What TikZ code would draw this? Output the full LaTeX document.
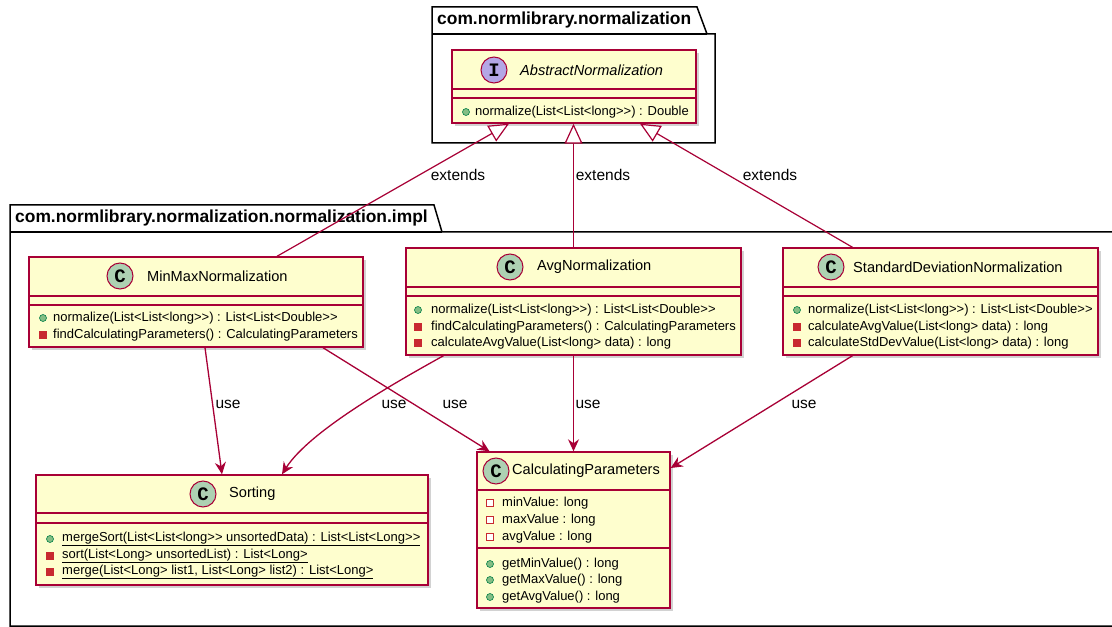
\documentclass[tikz,border=0pt]{standalone}
\usepackage{fontspec}
\setmainfont{Liberation Sans}
\newfontfamily\badgefont{Liberation Mono}
\usetikzlibrary{arrows.meta,shadows}
\definecolor{umlred}{HTML}{A80036}
\definecolor{umlfill}{HTML}{FEFECE}
\definecolor{cgreen}{HTML}{ADD1B2}
\definecolor{ipurple}{HTML}{B4A7E5}
\definecolor{pubfill}{HTML}{84BE84}
\definecolor{pubdraw}{HTML}{038048}
\definecolor{privred}{HTML}{C82930}
% two closing brackets without the tex-text ligature
\newcommand{\gtgt}{>\kern0pt>}
\begin{document}
\begin{tikzpicture}[x=1bp,y=-1bp,line join=miter,
  pkg/.style={draw=black,line width=1.5bp},
  pkgname/.style={anchor=west,inner sep=0pt,font=\fontsize{17.4bp}{20bp}\selectfont\bfseries},
  umlclass/.style={draw=umlred,fill=umlfill,line width=1.4bp,inner sep=0pt,
    drop shadow={shadow xshift=3bp,shadow yshift=-3bp,opacity=.35}},
  sep/.style={draw=umlred,line width=1.2bp},
  cbadge/.style={circle,draw=umlred,fill=cgreen,line width=1bp,minimum size=26bp,inner sep=0pt,
    font=\badgefont\bfseries\fontsize{19bp}{19bp}\selectfont},
  ibadge/.style={cbadge,fill=ipurple},
  classname/.style={anchor=west,inner sep=0pt,font=\fontsize{14.6bp}{17bp}\selectfont},
  member/.style={anchor=west,inner sep=0pt,font=\fontsize{13bp}{15bp}\selectfont},
  pub/.style={circle,draw=pubdraw,fill=pubfill,line width=.6bp,minimum size=7bp,inner sep=0pt},
  priv/.style={rectangle,draw=privred,fill=privred,line width=.6bp,minimum size=7bp,inner sep=0pt},
  privfield/.style={rectangle,draw=privred,fill=white,line width=.9bp,minimum size=7.5bp,inner sep=0pt},
  edgelabel/.style={inner sep=0pt,font=\fontsize{15.5bp}{18bp}\selectfont},
  extends/.style={draw=umlred,line width=1.2bp,-{Triangle[length=20bp,width=18bp,fill=white]}},
  use/.style={draw=umlred,line width=1.3bp,-{Stealth[length=12bp,width=11bp,inset=4bp]}},
]
\useasboundingbox (0,0) rectangle (1112,627);
\clip (0,0) rectangle (1112,627);
\fill[white] (0,0) rectangle (1112,627);
%% packages
\draw[pkg,fill=white] (432,7) -- (697,7) -- (707,34) -- (715,34) -- (715,143) -- (432,143) -- cycle;
\draw[pkg] (432,34) -- (707,34);
\node[pkgname] (NormPkg) at (437,20.5) {com.normlibrary.normalization};
\draw[pkg,fill=white] (10,205) -- (434,205) -- (442,232) -- (1125,232) -- (1125,626) -- (10,626) -- cycle;
\draw[pkg] (10,232) -- (442,232);
\node[pkgname] (ImplPkg) at (15,218.5) {com.normlibrary.normalization.normalization.impl};
%% AbstractNormalization
\node[umlclass,minimum width=244bp,minimum height=73bp] (Abstract) at (574,86.5) {};
\draw[sep] (Abstract.west |- 0,89) -- (Abstract.east |- 0,89);
\draw[sep] (Abstract.west |- 0,98) -- (Abstract.east |- 0,98);
\node[ibadge] (AbstractBadge) at (494,70) {I};
\node[classname,font=\fontsize{14.6bp}{17bp}\selectfont\itshape] (AbstractName) at (520,70) {AbstractNormalization};
\node[pub] (AbstractM1) at (466,112) {};
\node[member] (AbstractT1) at (475,112) {normalize(List<List<long\gtgt) : Double};
%% MinMaxNormalization
\node[umlclass,minimum width=334bp,minimum height=90bp] (MinMax) at (196,302) {};
\draw[sep] (MinMax.west |- 0,296) -- (MinMax.east |- 0,296);
\draw[sep] (MinMax.west |- 0,305) -- (MinMax.east |- 0,305);
\node[cbadge] (MinMaxBadge) at (120,276) {C};
\node[classname] (MinMaxName) at (147,276) {MinMaxNormalization};
\node[pub] (MinMaxM1) at (43,318) {};
\node[member] (MinMaxT1) at (53,318) {normalize(List<List<long\gtgt) : List<List<Double\gtgt};
\node[priv] (MinMaxM2) at (43,335) {};
\node[member] (MinMaxT2) at (53,335) {findCalculatingParameters() : CalculatingParameters};
%% AvgNormalization
\node[umlclass,minimum width=335bp,minimum height=107bp] (Avg) at (573.5,301.5) {};
\draw[sep] (Avg.west |- 0,287) -- (Avg.east |- 0,287);
\draw[sep] (Avg.west |- 0,296) -- (Avg.east |- 0,296);
\node[cbadge] (AvgBadge) at (510,267) {C};
\node[classname] (AvgName) at (537,267) {AvgNormalization};
\node[pub] (AvgM1) at (418,310) {};
\node[member] (AvgT1) at (431,310) {normalize(List<List<long\gtgt) : List<List<Double\gtgt};
\node[priv] (AvgM2) at (418,327) {};
\node[member] (AvgT2) at (431,327) {findCalculatingParameters() : CalculatingParameters};
\node[priv] (AvgM3) at (418,343) {};
\node[member] (AvgT3) at (431,343) {calculateAvgValue(List<long> data) : long};
%% StandardDeviationNormalization
\node[umlclass,minimum width=315bp,minimum height=107bp] (StdDev) at (940.5,301.5) {};
\draw[sep] (StdDev.west |- 0,287) -- (StdDev.east |- 0,287);
\draw[sep] (StdDev.west |- 0,296) -- (StdDev.east |- 0,296);
\node[cbadge] (StdDevBadge) at (831,267) {C};
\node[classname] (StdDevName) at (853,267) {StandardDeviationNormalization};
\node[pub] (StdDevM1) at (797,310) {};
\node[member] (StdDevT1) at (808,310) {normalize(List<List<long\gtgt) : List<List<Double\gtgt};
\node[priv] (StdDevM2) at (797,327) {};
\node[member] (StdDevT2) at (808,327) {calculateAvgValue(List<long> data) : long};
\node[priv] (StdDevM3) at (797,343) {};
\node[member] (StdDevT3) at (808,343) {calculateStdDevValue(List<long> data) : long};
%% Sorting
\node[umlclass,minimum width=392bp,minimum height=110bp] (Sorting) at (232,530) {};
\draw[sep] (Sorting.west |- 0,513) -- (Sorting.east |- 0,513);
\draw[sep] (Sorting.west |- 0,523) -- (Sorting.east |- 0,523);
\node[cbadge] (SortingBadge) at (203,494) {C};
\node[classname] (SortingName) at (229,494) {Sorting};
\node[pub] (SortingM1) at (50,539) {};
\node[member] (SortingT1) at (62,539) {\underline{mergeSort(List<List<long\gtgt\ unsortedData) : List<List<Long\gtgt}};
\node[priv] (SortingM2) at (50,556) {};
\node[member] (SortingT2) at (62,556) {\underline{sort(List<Long> unsortedList) : List<Long>}};
\node[priv] (SortingM3) at (50,572) {};
\node[member] (SortingT3) at (62,572) {\underline{merge(List<Long> list1, List<Long> list2) : List<Long>}};
%% CalculatingParameters
\node[umlclass,minimum width=193bp,minimum height=156bp] (CalcParams) at (573.5,530) {};
\draw[sep] (CalcParams.west |- 0,490) -- (CalcParams.east |- 0,490);
\draw[sep] (CalcParams.west |- 0,548) -- (CalcParams.east |- 0,548);
\node[cbadge] (CalcParamsBadge) at (496,471) {C};
\node[classname] (CalcParamsName) at (512,471) {CalculatingParameters};
\node[privfield] (CalcParamsA1) at (490,503) {};
\node[member] (CalcParamsU1) at (502,503) {minValue: long};
\node[privfield] (CalcParamsA2) at (490,520) {};
\node[member] (CalcParamsU2) at (502,520) {maxValue : long};
\node[privfield] (CalcParamsA3) at (490,537) {};
\node[member] (CalcParamsU3) at (502,537) {avgValue : long};
\node[pub] (CalcParamsM1) at (490,564) {};
\node[member] (CalcParamsT1) at (502,564) {getMinValue() : long};
\node[pub] (CalcParamsM2) at (490,580) {};
\node[member] (CalcParamsT2) at (502,580) {getMaxValue() : long};
\node[pub] (CalcParamsM3) at (490,597) {};
\node[member] (CalcParamsT3) at (502,597) {getAvgValue() : long};
%% extends
\draw[extends] ([xshift=81bp]MinMax.north) -- ([xshift=-65bp]Abstract.south);
\draw[extends] (Avg.north) -- (Avg.north |- Abstract.south);
\draw[extends] ([xshift=-88bp]StdDev.north) -- ([xshift=66bp]Abstract.south);
\node[edgelabel] (ExtMinMax) at (458,175) {extends};
\node[edgelabel] (ExtAvg) at (603,175) {extends};
\node[edgelabel] (ExtStdDev) at (770,175) {extends};
%% use
\draw[use] ([xshift=9bp]MinMax.south) -- ([xshift=-10bp]Sorting.north);
\draw[use] ([xshift=127bp]MinMax.south) -- ([xshift=-84bp]CalcParams.north);
\draw[use] ([xshift=-130bp]Avg.south) .. controls (400,380) and (310,430) .. ([xshift=50bp]Sorting.north);
\draw[use] (Avg.south) -- (CalcParams.north);
\draw[use] ([xshift=-88bp]StdDev.south) -- ([yshift=62bp]CalcParams.east);
\node[edgelabel] (UseMinMaxSort) at (228,404) {use};
\node[edgelabel] (UseAvgSort) at (394,404) {use};
\node[edgelabel] (UseMinMaxCalc) at (455,404) {use};
\node[edgelabel] (UseAvgCalc) at (588,404) {use};
\node[edgelabel] (UseStdDevCalc) at (804,404) {use};
%
\end{tikzpicture}
\end{document}
